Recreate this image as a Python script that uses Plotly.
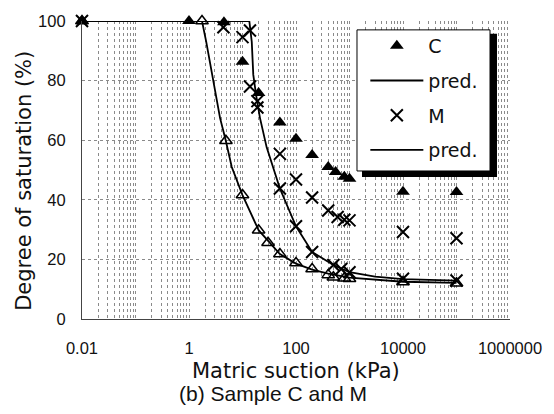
import plotly.graph_objects as go

# ---- data (matric suction in kPa, degree of saturation in %) ----
suction_c_dry = [0.01, 1, 4.5, 10, 20, 50, 100, 200, 400, 550, 800, 1000, 10000, 100000]
sat_c_dry = [100, 100, 99.6, 86.3, 75.8, 65.9, 60.5, 55.0, 51.0, 49.3, 47.7, 47.1, 42.7, 42.6]

suction_c_wet = [0.01, 1.75, 4.9, 10, 20, 30, 50, 100, 200, 400, 500, 800, 1000, 10000, 100000]
sat_c_wet = [100, 100, 59.8, 41.6, 29.8, 25.6, 21.8, 18.8, 16.8, 14.8, 14.0, 13.7, 13.5, 12.4, 12.0]

suction_m_dry = [0.01, 13.4, 13.8, 13.8, 19, 19, 50, 100, 200, 400, 600, 800, 1000, 10000, 100000]
sat_m_dry = [100, 100.8, 96.8, 78.0, 73.1, 71.0, 55.4, 46.8, 40.8, 36.4, 34.2, 33.3, 33.1, 29.2, 27.1]

suction_m_wet = [4.4, 10, 50, 100, 200, 500, 700, 1000, 10000, 100000]
sat_m_wet = [97.9, 94.6, 43.8, 31.1, 22.5, 18.1, 16.8, 15.7, 13.5, 12.9]

suction_c_pred = [0.01, 1.75, 2.1, 2.8, 3.8, 4.85, 6.3, 10, 20, 50, 100, 200, 400, 1000, 3700, 10000, 100000]
sat_c_pred = [100, 100, 93, 80, 67.5, 60, 51, 41.6, 29.8, 21.8, 18.6, 16.6, 15.2, 13.9, 13.0, 12.5, 12.1]

suction_m_pred = [0.01, 13.4, 14.9, 15.9, 17.9, 21.2, 28.3, 50, 100, 200, 500, 1000, 3000, 10000, 100000]
sat_m_pred = [100, 100, 93, 82, 75.3, 67.5, 57.6, 43.8, 31.1, 22.5, 18.1, 15.7, 14.2, 13.4, 12.9]

x_tick_labels = ["0.01", "1", "100", "10000", "1000000"]
x_tick_values = [0.01, 1, 100, 10000, 1000000]
y_tick_values = [0, 20, 40, 60, 80, 100]

# ---- figure ----
fig = go.Figure()

fig.add_trace(go.Scatter(
    x=suction_c_dry, y=sat_c_dry, mode="markers", name="C", legendgroup="g1",
    marker=dict(symbol="triangle-up", size=12, color="black"), cliponaxis=False))
fig.add_trace(go.Scatter(
    x=suction_c_wet, y=sat_c_wet, mode="markers", name="C wetting", showlegend=False,
    legendgroup="g1",
    marker=dict(symbol="triangle-up-open", size=11, color="black", line=dict(width=1.5)),
    cliponaxis=False))
fig.add_trace(go.Scatter(
    x=suction_c_pred, y=sat_c_pred, mode="lines", name="pred.", legendgroup="g2",
    line=dict(color="black", width=1.8), cliponaxis=False))
fig.add_trace(go.Scatter(
    x=suction_m_dry, y=sat_m_dry, mode="markers", name="M", legendgroup="g3",
    marker=dict(symbol="x-thin-open", size=12, color="black", line=dict(width=2, color="black")),
    cliponaxis=False))
fig.add_trace(go.Scatter(
    x=suction_m_wet, y=sat_m_wet, mode="markers", name="M wetting", showlegend=False,
    legendgroup="g3",
    marker=dict(symbol="x-thin-open", size=12, color="black", line=dict(width=2, color="black")),
    cliponaxis=False))
fig.add_trace(go.Scatter(
    x=suction_m_pred, y=sat_m_pred, mode="lines", name="pred.", legendgroup="g4",
    line=dict(color="black", width=1.8), cliponaxis=False))

# all minor log positions for the dotted grid
grid_vals = []
for k in range(-2, 6):
    for d in range(1, 10):
        grid_vals.append(d * 10 ** k)
grid_vals.append(10 ** 6)
grid_text = [x_tick_labels[x_tick_values.index(v)] if v in x_tick_values else "" for v in grid_vals]

tick_font = dict(family="Liberation Sans, Arial, sans-serif", size=16.5, color="#111")
title_font = dict(family="DejaVu Sans, sans-serif", size=21, color="#111")

fig.update_layout(
    width=554, height=414,
    margin=dict(l=82, r=44, t=17, b=95),
    paper_bgcolor="white", plot_bgcolor="white",
    showlegend=True,
    legend=dict(
        x=0.662, y=0.980, xanchor="left", yanchor="top",
        bgcolor="rgba(0,0,0,0)", borderwidth=0,
        font=dict(family="DejaVu Sans, sans-serif", size=19, color="#111"),
        itemwidth=53, tracegroupgap=7, traceorder="grouped",
    ),
    xaxis=dict(
        type="log", range=[-2, 6],
        tickmode="array", tickvals=grid_vals, ticktext=grid_text,
        showgrid=True, gridcolor="#8a8a8a", griddash="dot", gridwidth=1,
        showline=True, linecolor="#444", linewidth=1.2,
        ticks="", ticklabelstandoff=14, tickfont=tick_font, zeroline=False,
    ),
    yaxis=dict(
        range=[0, 100], tickmode="array", tickvals=y_tick_values,
        showgrid=True, gridcolor="#8a8a8a", griddash="dot", gridwidth=1,
        showline=True, linecolor="#444", linewidth=1.2,
        ticks="", ticklabelstandoff=12, tickfont=tick_font, zeroline=False,
    ),
    shapes=[
        dict(type="rect", xref="paper", yref="paper", layer="above",
             x0=0.6542, x1=0.9696, y0=0.4768, y1=0.9570,
             fillcolor="black", line=dict(width=0)),
        dict(type="rect", xref="paper", yref="paper", layer="above",
             x0=0.6425, x1=0.9533, y0=0.4967, y1=0.9702,
             fillcolor="white", line=dict(color="black", width=1)),
    ],
    annotations=[
        dict(text="Degree of saturation (%)", xref="paper", yref="paper",
             x=-0.1355, y=0.4636, xanchor="center", yanchor="middle",
             textangle=-90, showarrow=False, font=title_font),
        dict(text="Matric suction (kPa)", xref="paper", yref="paper",
             x=0.5, y=-0.1755, xanchor="center", yanchor="middle",
             showarrow=False, font=title_font),
        dict(text="(b) Sample C and M", xref="paper", yref="paper",
             x=0.4474, y=-0.250, xanchor="center", yanchor="middle",
             showarrow=False,
             font=dict(family="Liberation Sans, Arial, sans-serif", size=21, color="#111")),
    ],
)

fig.write_html("out.html")
